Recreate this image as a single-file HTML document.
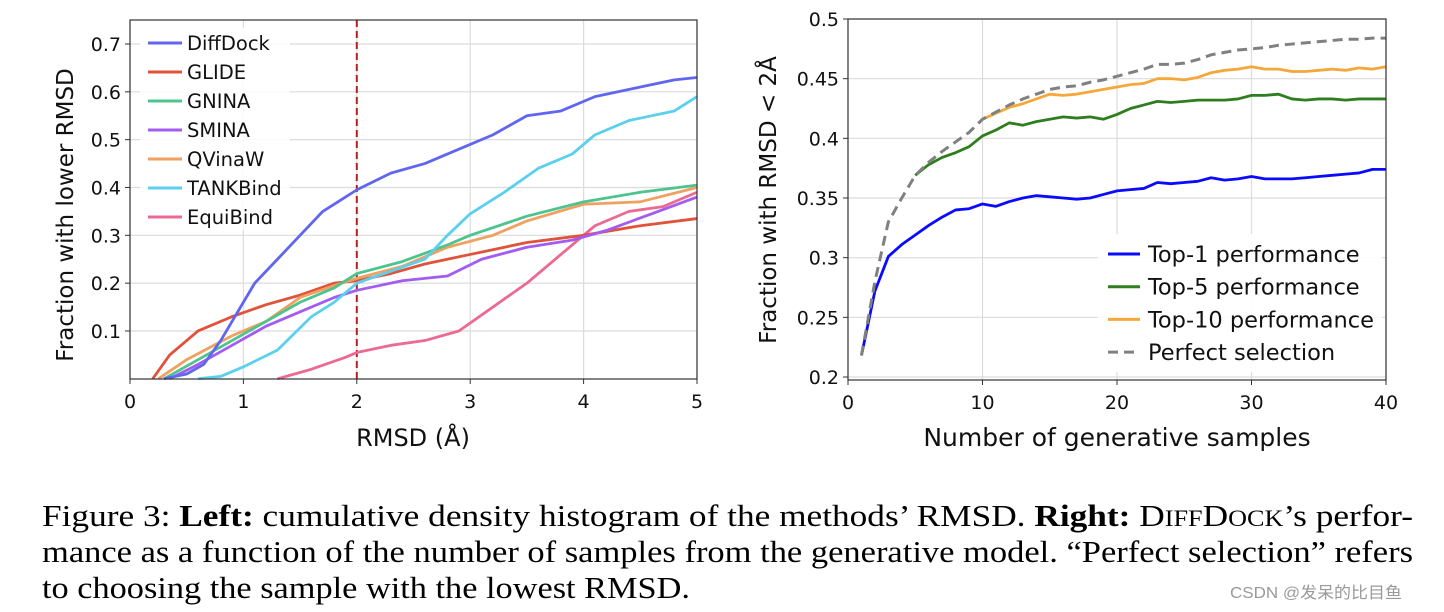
<!DOCTYPE html>
<html><head><meta charset="utf-8"><style>
html,body{margin:0;padding:0;background:#fff;width:1444px;height:612px;overflow:hidden}
svg{display:block}
text{font-family:"DejaVu Sans","Liberation Sans",sans-serif}
.cap{font-family:"Liberation Serif","Noto Serif CJK SC",serif;font-size:31px;fill:#000}
</style></head><body>
<svg id="svg" width="1444" height="612" viewBox="0 0 1444 612">
<g id="left"></g>
<g id="right"></g>
<g>
<text class="cap" x="42" y="526" textLength="1371" lengthAdjust="spacingAndGlyphs">Figure 3: <tspan font-weight="bold">Left:</tspan> cumulative density histogram of the methods’ RMSD. <tspan font-weight="bold">Right:</tspan> D<tspan font-size="23">IFF</tspan>D<tspan font-size="23">OCK</tspan>’s perfor-</text>
<text class="cap" x="42" y="562" textLength="1371" lengthAdjust="spacingAndGlyphs">mance as a function of the number of samples from the generative model. “Perfect selection” refers</text>
<text class="cap" x="42" y="598" textLength="648" lengthAdjust="spacingAndGlyphs">to choosing the sample with the lowest RMSD.</text>
</g>
<text x="1230" y="598" font-size="16" fill="#999" textLength="172" lengthAdjust="spacingAndGlyphs" style="font-family:'Liberation Sans','Noto Sans CJK SC',sans-serif">CSDN @发呆的比目鱼</text>
</svg>
<script>
// ---- Left chart data ----
const leftXTicks=[0,1,2,3,4,5];
const leftYTicks=[0.1,0.2,0.3,0.4,0.5,0.6,0.7];
const methodNames=["DiffDock","GLIDE","GNINA","SMINA","QVinaW","TANKBind","EquiBind"];
const methodColors=["#6066f0","#e0533a","#4dc48e","#a35cf0","#f0a060","#5bd0ee","#ec6a92"];
const diffdockX=[0.3,0.5,0.65,0.8,1,1.1,1.3,1.5,1.7,1.9,2,2.3,2.6,2.9,3.2,3.5,3.8,4.1,4.5,4.8,5];
const diffdockY=[0,0.01,0.03,0.08,0.16,0.2,0.25,0.3,0.35,0.38,0.395,0.43,0.45,0.48,0.51,0.55,0.56,0.59,0.61,0.625,0.63];
const glideX=[0.2,0.35,0.6,0.9,1.2,1.5,1.8,2,2.3,2.6,3,3.5,4,4.5,5];
const glideY=[0,0.05,0.1,0.13,0.155,0.175,0.2,0.205,0.22,0.24,0.26,0.285,0.3,0.32,0.335];
const gninaX=[0.3,0.6,0.9,1.2,1.5,1.8,2,2.4,2.8,3,3.5,4,4.5,5];
const gninaY=[0,0.04,0.08,0.12,0.16,0.19,0.22,0.245,0.28,0.3,0.34,0.37,0.39,0.405];
const sminaX=[0.35,0.6,0.9,1.2,1.5,1.8,2,2.4,2.8,3.1,3.5,3.9,4.2,4.6,5];
const sminaY=[0,0.03,0.07,0.11,0.14,0.17,0.185,0.205,0.215,0.25,0.275,0.29,0.31,0.345,0.38];
const qvinaX=[0.25,0.5,0.9,1.2,1.5,1.8,2,2.4,2.8,3.2,3.5,4,4.5,5];
const qvinaY=[0,0.04,0.09,0.12,0.17,0.195,0.21,0.235,0.275,0.3,0.33,0.365,0.37,0.4];
const tankX=[0.6,0.8,1,1.3,1.6,1.8,2,2.3,2.6,2.8,3,3.3,3.6,3.9,4.1,4.4,4.8,5];
const tankY=[0,0.005,0.025,0.06,0.13,0.16,0.2,0.225,0.25,0.3,0.345,0.39,0.44,0.47,0.51,0.54,0.56,0.59];
const equiX=[1.3,1.6,1.9,2,2.3,2.6,2.9,3.2,3.5,3.8,4.1,4.4,4.7,5];
const equiY=[0,0.02,0.045,0.055,0.07,0.08,0.1,0.15,0.2,0.26,0.32,0.35,0.36,0.39];
const methodX=[diffdockX,glideX,gninaX,sminaX,qvinaX,tankX,equiX];
const methodY=[diffdockY,glideY,gninaY,sminaY,qvinaY,tankY,equiY];
const dashedRMSD=2;

// ---- Right chart data ----
const rightXTicks=[0,10,20,30,40];
const rightYTicks=[0.2,0.25,0.3,0.35,0.4,0.45,0.5];
const rightYLabels=["0.2","0.25","0.3","0.35","0.4","0.45","0.5"];
const top1Start=1;
const top1=[0.218,0.272,0.301,0.311,0.319,0.327,0.334,0.340,0.341,0.345,0.343,0.347,0.350,0.352,0.351,0.350,0.349,0.350,0.353,0.356,0.357,0.358,0.363,0.362,0.363,0.364,0.367,0.365,0.366,0.368,0.366,0.366,0.366,0.367,0.368,0.369,0.370,0.371,0.374,0.374];
const top5Start=5;
const top5=[0.369,0.378,0.384,0.388,0.393,0.402,0.407,0.413,0.411,0.414,0.416,0.418,0.417,0.418,0.416,0.420,0.425,0.428,0.431,0.430,0.431,0.432,0.432,0.432,0.433,0.436,0.436,0.437,0.433,0.432,0.433,0.433,0.432,0.433,0.433,0.433];
const top10Start=10;
const top10=[0.416,0.421,0.426,0.429,0.433,0.437,0.436,0.437,0.439,0.441,0.443,0.445,0.446,0.450,0.450,0.449,0.451,0.455,0.457,0.458,0.460,0.458,0.458,0.456,0.456,0.457,0.458,0.457,0.459,0.458,0.460];
const perfectStart=1;
const perfect=[0.218,0.280,0.330,0.350,0.369,0.380,0.389,0.397,0.405,0.416,0.422,0.428,0.433,0.437,0.441,0.443,0.444,0.447,0.449,0.452,0.455,0.458,0.462,0.462,0.463,0.466,0.470,0.472,0.474,0.475,0.476,0.478,0.479,0.480,0.481,0.482,0.483,0.483,0.484,0.484];
const rightNames=["Top-1 performance","Top-5 performance","Top-10 performance","Perfect selection"];

const NS="http://www.w3.org/2000/svg";
function mk(parent,tag,attrs,txt){const e=document.createElementNS(NS,tag);for(const k in attrs)e.setAttribute(k,attrs[k]);if(txt!==undefined)e.textContent=txt;parent.appendChild(e);return e;}
const TF=19;

// ---- Left chart ----
(function(){
const g=document.getElementById('left');
const L=130,R=697,T=20,B=379;
const xs=v=>L+(v-0)/5*(R-L);
const ys=v=>378.8-v*478.3;
leftXTicks.forEach(t=>{
  const gl=mk(g,'line',{x1:xs(t),x2:xs(t),y1:T,y2:B,stroke:'#dcdcdc','stroke-width':1.2});
  
  
  const tk=mk(g,'line',{x1:xs(t),x2:xs(t),y1:B,y2:B+5,stroke:'#333','stroke-width':1});
  
  
  const tl=mk(g,'text',{x:xs(t),y:B+29,'text-anchor':'middle','font-size':TF,fill:'#111'},String(t));
  
  
});
leftYTicks.forEach(t=>{
  const gl=mk(g,'line',{x1:L,x2:R,y1:ys(t),y2:ys(t),stroke:'#dcdcdc','stroke-width':1.2});
  
  
  const tk=mk(g,'line',{x1:L-5,x2:L,y1:ys(t),y2:ys(t),stroke:'#333','stroke-width':1});
  
  
  const tl=mk(g,'text',{x:L-9,y:ys(t)+7,'text-anchor':'end','font-size':TF,fill:'#111'},t.toFixed(1));
  
  
});
const dl=mk(g,'line',{x1:xs(dashedRMSD),x2:xs(dashedRMSD),y1:T,y2:B,stroke:'#b22222','stroke-width':2,'stroke-dasharray':'7,4'});


const order=[6,1,4,2,3,5,0];
order.forEach(i=>{
  const X=methodX[i],Y=methodY[i];let d='';
  for(let k=0;k<X.length;k++){
    if(k===0)d+='M'+xs(X[k])+','+ys(Y[k]);
    else d+='L'+xs(X[k])+','+ys(Y[k]);
  }
  const p=mk(g,'path',{d:d,fill:'none',stroke:methodColors[i],'stroke-width':2.8,'stroke-linejoin':'round'});
  
  
});
const lb=mk(g,'rect',{x:140,y:28,width:150,height:202,fill:'#fff','fill-opacity':0.85});


methodNames.forEach((n,i)=>{
  const y=43+i*29;
  const ll=mk(g,'line',{x1:148,x2:182,y1:y,y2:y,stroke:methodColors[i],'stroke-width':3});
  
  
  const lt=mk(g,'text',{x:187,y:y+7,'font-size':19.5,fill:'#111'},n);
  
  
});
const fr=mk(g,'rect',{x:L,y:T,width:R-L,height:B-T,fill:'none',stroke:'#333','stroke-width':1.2});


const xl=mk(g,'text',{x:413,y:446,'text-anchor':'middle','font-size':24,fill:'#111'},'RMSD (Å)');


const yl=mk(g,'text',{x:0,y:0,'text-anchor':'middle','font-size':23,fill:'#111',transform:'translate(73,215) rotate(-90)'},'Fraction with lower RMSD');


})();

// ---- Right chart ----
(function(){
const g=document.getElementById('right');
const L=848,R=1386,T=19,B=380;
const xs=v=>L+v/40*(R-L);
const ys=v=>377-(v-0.2)/0.3*358;
rightXTicks.forEach(t=>{
  const gl=mk(g,'line',{x1:xs(t),x2:xs(t),y1:T,y2:B,stroke:'#dcdcdc','stroke-width':1.2});
  
  
  const tk=mk(g,'line',{x1:xs(t),x2:xs(t),y1:B,y2:B+5,stroke:'#333','stroke-width':1});
  
  
  const tl=mk(g,'text',{x:xs(t),y:B+29,'text-anchor':'middle','font-size':TF,fill:'#111'},String(t));
  
  
});
rightYTicks.forEach((t,i)=>{
  const gl=mk(g,'line',{x1:L,x2:R,y1:ys(t),y2:ys(t),stroke:'#dcdcdc','stroke-width':1.2});
  
  
  const tk=mk(g,'line',{x1:L-5,x2:L,y1:ys(t),y2:ys(t),stroke:'#333','stroke-width':1});
  
  
  const tl=mk(g,'text',{x:L-9,y:ys(t)+7,'text-anchor':'end','font-size':TF,fill:'#111'},rightYLabels[i]);
  
  
});
function series(arr,start,color,dash,name){
  const pts=arr.map((v,k)=>xs(start+k)+','+ys(v)).join(' ');
  const attrs={points:pts,fill:'none',stroke:color,'stroke-width':dash?3:2.8,'stroke-linejoin':'round'};
  if(dash)attrs['stroke-dasharray']='10,6';
  const p=mk(g,'polyline',attrs);
  
  
}
series(top1,top1Start,'#0a0aff',false,'line-top-1');
series(top5,top5Start,'#2e7d1e',false,'line-top-5');
series(top10,top10Start,'#f5a83a',false,'line-top-10');
series(perfect,perfectStart,'#808080',true,'line-perfect-selection');
const lb=mk(g,'rect',{x:1098,y:234,width:284,height:138,fill:'#fff','fill-opacity':0.9});


const lc=['#0a0aff','#2e7d1e','#f5a83a','#808080'];
rightNames.forEach((n,i)=>{
  const y=254+i*32.7;
  const a={x1:1108,x2:1140,y1:y,y2:y,stroke:lc[i],'stroke-width':3};
  if(i===3)a['stroke-dasharray']='10,6';
  const ll=mk(g,'line',a);
  
  
  const lt=mk(g,'text',{x:1148,y:y+8,'font-size':22.5,fill:'#111'},n);
  
  
});
const fr=mk(g,'rect',{x:L,y:T,width:R-L,height:B-T,fill:'none',stroke:'#333','stroke-width':1.2});


const xl=mk(g,'text',{x:1117,y:446,'text-anchor':'middle','font-size':25,fill:'#111'},'Number of generative samples');


const yl=mk(g,'text',{x:0,y:0,'text-anchor':'middle','font-size':23,fill:'#111',transform:'translate(776,200) rotate(-90)'},'Fraction with RMSD < 2Å');


})();
</script>
</body></html>
